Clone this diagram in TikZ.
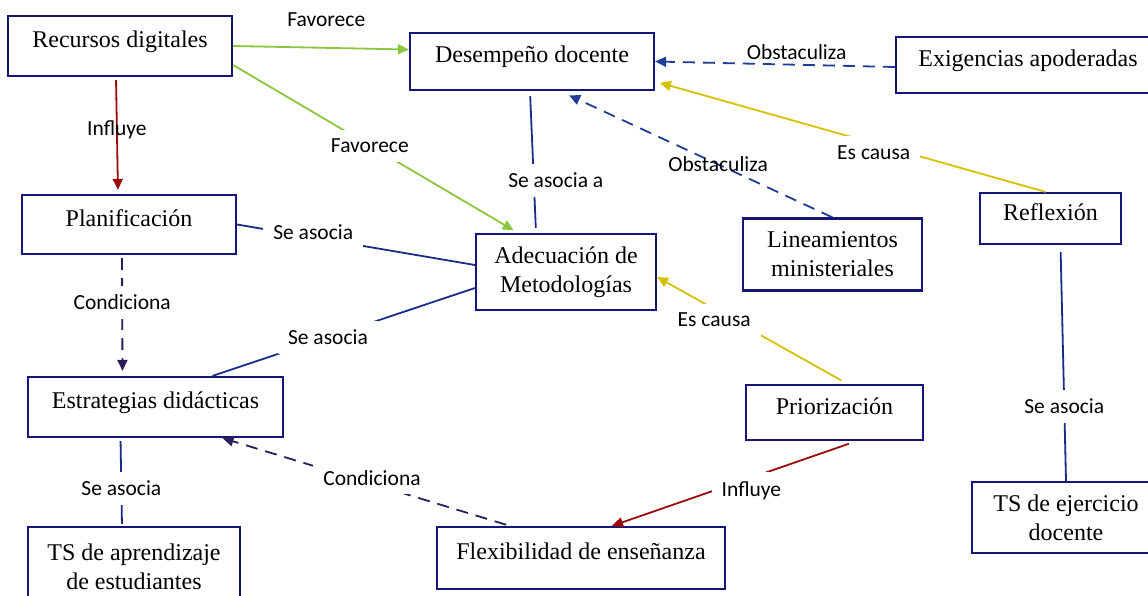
\documentclass[tikz,border=0pt]{standalone}
\usepackage{fontspec}
\setmainfont{Liberation Serif}
\newfontfamily\etiqfont{Carlito}
\usepackage{xcolor}
\definecolor{marco}{HTML}{16167A}
\definecolor{asocia}{HTML}{1B2C86}
\definecolor{obstac}{HTML}{1F3C96}
\definecolor{condic}{HTML}{2C1D5C}
\definecolor{favor}{HTML}{8CC63F}
\definecolor{influ}{HTML}{9C0B0B}
\definecolor{causa}{HTML}{D5C100}
\usepackage{tikz}
\usetikzlibrary{arrows.meta}

\begin{document}
\begin{tikzpicture}[x=1pt, y=-1pt,
  concepto/.style={draw=marco, line width=2.2pt, fill=white, align=center,
    font=\fontsize{24}{29}\selectfont, inner sep=0pt},
  linea/.style={text height=17pt, text depth=14pt},
  rel/.style={draw=#1, line width=1.8pt},
  flecha/.style={rel=#1, -{Triangle[length=11pt,width=10pt]}},
  punteada/.style={dash pattern=on 12pt off 8pt},
  etiq/.style={font=\etiqfont\fontsize{21.5}{23}\selectfont, text=black,
    inner xsep=10pt, inner ysep=9pt},
  hueco/.style={etiq, fill=white}
]
  \fill[white] (0,0) rectangle (1148,596);
  \useasboundingbox (0,0) rectangle (1148,596);

  % Conceptos
  \node[concepto, linea, minimum width=224pt, minimum height=60pt] (recursos) at (120,46) {Recursos digitales};
  \node[concepto, linea, minimum width=244pt, minimum height=57pt] (desempeno) at (532,61.5) {Desempeño docente};
  \node[concepto, linea, minimum width=264pt, minimum height=56pt] (exigencias) at (1028,65) {Exigencias apoderadas};
  \node[concepto, linea, minimum width=214pt, minimum height=59pt] (planificacion) at (129,224.5) {Planificación};
  \node[concepto, minimum width=180pt, minimum height=76pt] (adecuacion) at (566,272) {Adecuación de\\Metodologías};
  \node[concepto, minimum width=179pt, minimum height=72pt] (lineamientos) at (832.5,254.5) {Lineamientos\\ministeriales};
  \node[concepto, linea, minimum width=141pt, minimum height=51pt] (reflexion) at (1050.5,218.5) {Reflexión};
  \node[concepto, linea, minimum width=255pt, minimum height=60pt] (estrategias) at (155.5,407) {Estrategias didácticas};
  \node[concepto, linea, minimum width=177pt, minimum height=55pt] (priorizacion) at (834.5,412.5) {Priorización};
  \node[concepto, minimum width=212pt, minimum height=80pt] (aprendizaje) at (134,567) {TS de aprendizaje\\de estudiantes};
  \node[concepto, linea, minimum width=288pt, minimum height=62pt] (flexibilidad) at (581,558) {Flexibilidad de enseñanza};
  \node[concepto, minimum width=188pt, minimum height=71pt] (ejercicio) at (1066,517.5) {TS de ejercicio\\docente};

  % Favorece
  \draw[flecha=favor] (recursos.east) -- node[etiq, pos=0.53, yshift=28pt] {Favorece} ([yshift=12pt]desempeno.west);
  \draw[flecha=favor, shorten >=5pt] ([yshift=-19pt]recursos.east) -- node[hueco, pos=0.48] {Favorece} ([xshift=-48pt]adecuacion.north);

  % Influye
  \draw[flecha=influ, shorten <=3pt, shorten >=4pt] ([xshift=-4pt]recursos.south) -- node[etiq, pos=0.45] {Influye} ([xshift=-11pt]planificacion.north);
  \draw[flecha=influ, shorten <=8pt] ([xshift=22pt]priorizacion.south) -- node[hueco, pos=0.43, yshift=-13pt] {Influye} ([xshift=31pt]flexibilidad.north);

  % Obstaculiza
  \draw[flecha=obstac, punteada] ([yshift=-2pt]exigencias.west) -- node[etiq, pos=0.41, yshift=13pt] {Obstaculiza} (desempeno.east);
  \draw[flecha=obstac, punteada, shorten >=10pt] (lineamientos.north) -- node[etiq, pos=0.42] {Obstaculiza} ([xshift=28pt]desempeno.south);

  % Es causa
  \draw[flecha=causa, shorten >=5pt] ([xshift=-5pt]reflexion.north) -- node[hueco, pos=0.44, yshift=-9pt] {Es causa} ([yshift=-20pt]desempeno.east);
  \draw[flecha=causa, shorten <=7pt] ([xshift=13pt]priorizacion.north) -- node[hueco, pos=0.70, yshift=-11pt] {Es causa} ([yshift=-5pt]adecuacion.east);

  % Condiciona
  \draw[flecha=condic, punteada, shorten <=3pt, shorten >=5pt] ([xshift=-7pt]planificacion.south) -- node[hueco, pos=0.39] {Condiciona} ([xshift=-33pt]estrategias.north);
  \draw[flecha=condic, punteada, shorten <=4pt] ([xshift=-71pt]flexibilidad.north) -- node[hueco, pos=0.48, yshift=6pt] {Condiciona} ([xshift=67pt]estrategias.south);

  % Se asocia
  \draw[rel=asocia, shorten <=5pt, shorten >=5pt] ([xshift=-2pt]desempeno.south) -- node[hueco, pos=0.63, xshift=22pt] {Se asocia a} ([xshift=-30pt]adecuacion.north);
  \draw[rel=asocia] (planificacion.east) -- node[hueco, pos=0.32, yshift=5pt] {Se asocia} ([yshift=7pt]adecuacion.west);
  \draw[rel=asocia] ([xshift=57pt]estrategias.north) -- node[hueco, pos=0.44] {Se asocia} ([yshift=-16pt]adecuacion.west);
  \draw[rel=asocia, shorten <=3pt, shorten >=2pt] ([xshift=-35pt]estrategias.south) -- node[hueco, pos=0.57] {Se asocia} ([xshift=-12pt]aprendizaje.north);
  \draw[rel=asocia, shorten <=7pt] ([xshift=10pt]reflexion.south) -- node[hueco, pos=0.685] {Se asocia} (ejercicio.north);

\end{tikzpicture}
\end{document}
